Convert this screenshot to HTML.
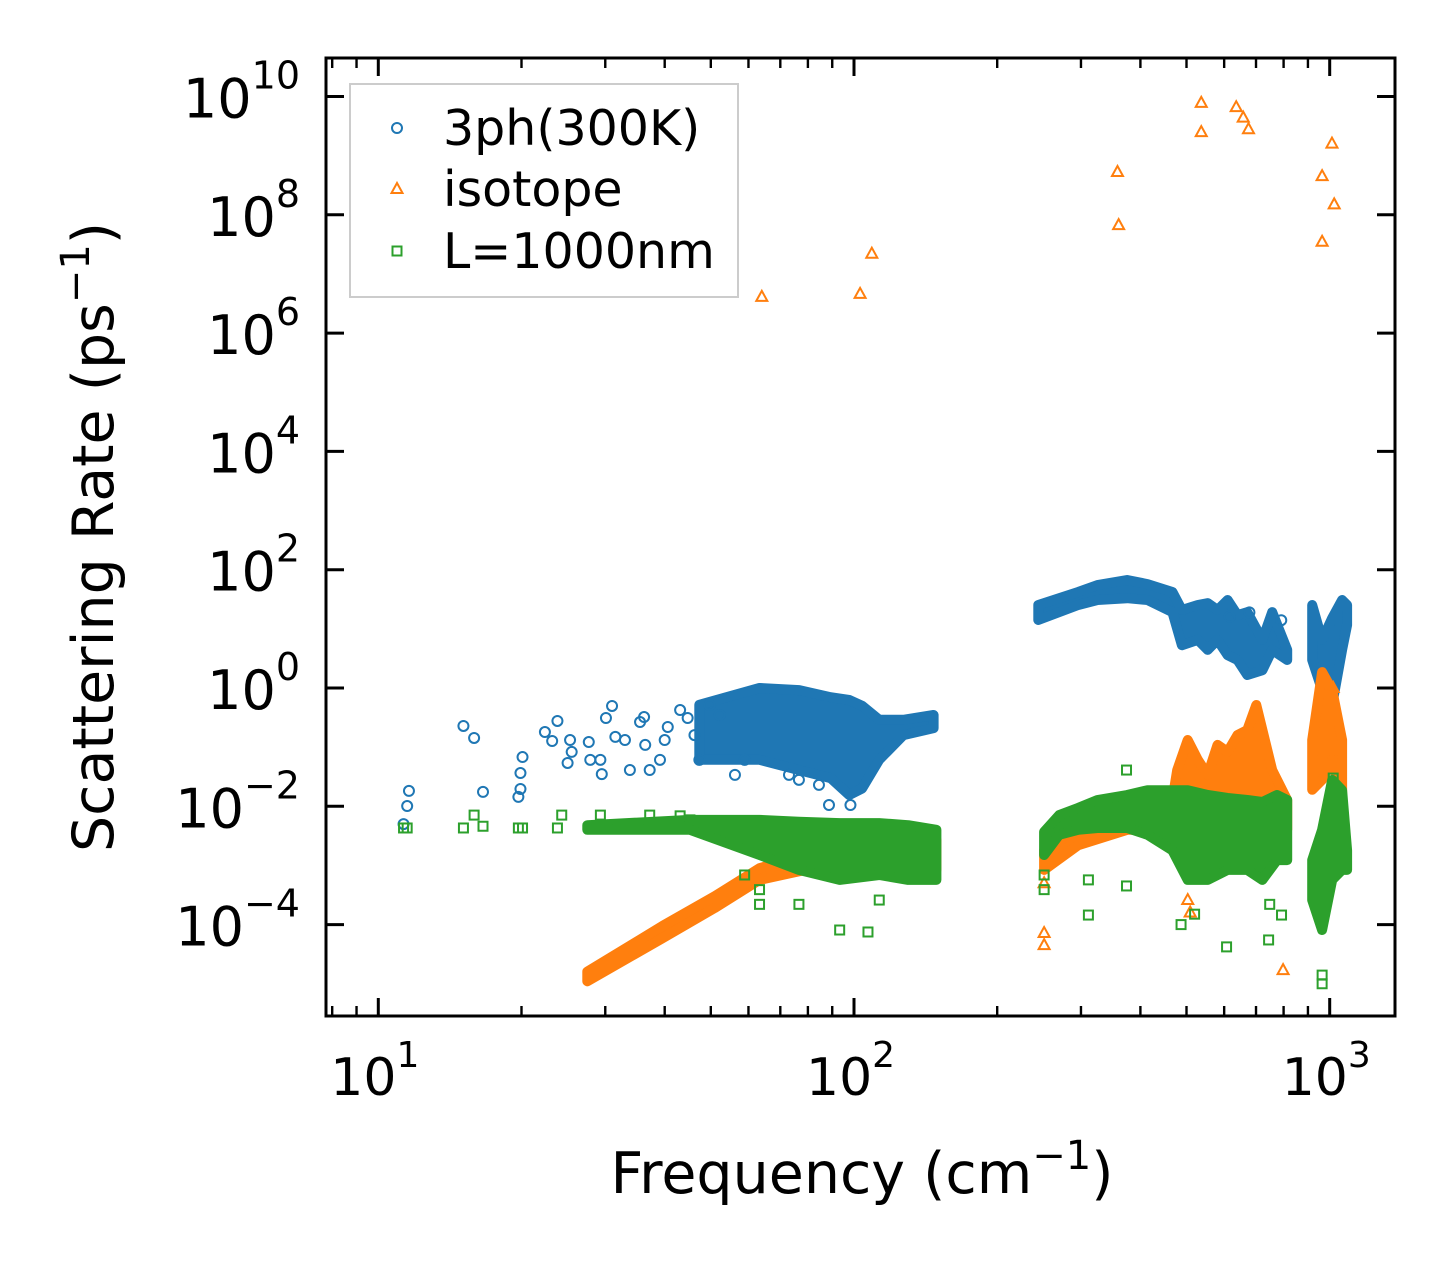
<!DOCTYPE html>
<html><head><meta charset="utf-8">
<style>
html,body{margin:0;padding:0;background:#fff;}
svg{display:block;font-family:"DejaVu Sans","Liberation Sans",sans-serif;}
</style></head>
<body>
<svg id="chart" width="1455" height="1265" viewBox="0 0 1455 1265" xmlns="http://www.w3.org/2000/svg">
<rect width="1455" height="1265" fill="#fff"/>
<g id="plot"></g>
<g id="axes"></g>
</svg>
<script>
// ---- data (frequency in cm^-1, scattering rate in ps^-1) ----
const xTickValues = [10, 100, 1000];
const xTickExps = ["1", "2", "3"];
const yTickValues = [1e10, 1e8, 1e6, 1e4, 1e2, 1, 1e-2, 1e-4];
const yTickExps = ["10", "8", "6", "4", "2", "0", "\u22122", "\u22124"];
const seriesNames = ["3ph(300K)", "isotope", "L=1000nm"];

// dense-region envelopes
const ph3Band1Freq = [47.3, 63.3, 76.7, 89.3, 97.7, 104, 113, 127, 147];
const ph3Band1Upper = [0.52, 1.0, 0.92, 0.7, 0.63, 0.5, 0.29, 0.29, 0.35];
const ph3Band1Lower = [0.061, 0.061, 0.041, 0.03, 0.0155, 0.02, 0.061, 0.16, 0.21];
const ph3Band2Freq = [244, 296, 325, 375, 414, 467, 489, 528, 554, 581, 610, 640, 671, 722, 757, 814];
const ph3Band2Upper = [25.3, 42, 55, 67, 57, 42, 20.8, 25.3, 27.3, 20.8, 30.8, 17.1, 19.2, 6.5, 19.2, 4.4];
const ph3Band2Lower = [14.1, 25.3, 30.8, 33, 30.8, 19.2, 5.3, 6.5, 4.4, 6.5, 3.6, 2.97, 1.66, 2.0, 4.4, 2.97];
const ph3Band3Freq = [919, 964, 1012, 1062, 1088];
const ph3Band3Upper = [25.3, 6.5, 15.2, 30.8, 25.3];
const ph3Band3Lower = [2.97, 0.92, 0.52, 4.4, 11.6];

const isoBand1Freq = [27.5, 39.6, 50.9, 63.3, 79.1, 102, 124, 149];
const isoBand1Upper = [1.6e-5, 9.5e-5, 3.0e-4, 9e-4, 1.5e-3, 1.8e-3, 2.2e-3, 2.7e-3];
const isoBand1Lower = [1.1e-5, 5.9e-5, 1.9e-4, 5.7e-4, 8.4e-4, 8.4e-4, 8.4e-4, 8.4e-4];
const isoBand2Freq = [251, 296, 375, 467, 478, 503, 528, 554, 581, 610, 640, 671, 701, 757, 814];
const isoBand2Upper = [0.0018, 0.004, 0.0087, 0.0128, 0.041, 0.132, 0.061, 0.034, 0.109, 0.083, 0.16, 0.195, 0.516, 0.041, 0.0128];
const isoBand2Lower = [0.00084, 0.0022, 0.004, 0.004, 0.004, 0.004, 0.0059, 0.004, 0.004, 0.004, 0.004, 0.0059, 0.0059, 0.0059, 0.004];
const isoBand3Freq = [919, 964, 1012, 1062];
const isoBand3Upper = [0.132, 1.86, 0.92, 0.132];
const isoBand3Lower = [0.019, 0.028, 0.061, 0.0128];

const bndBand1Freq = [27.5, 45.2, 63.3, 76.6, 93.3, 113, 130, 149];
const bndBand1Upper = [0.0048, 0.0059, 0.0059, 0.0055, 0.0052, 0.0052, 0.0048, 0.0040];
const bndBand1Lower = [0.0040, 0.0040, 0.0015, 0.00084, 0.00057, 0.00069, 0.00057, 0.00057];
const bndBand2Freq = [251, 270, 296, 325, 375, 414, 467, 503, 554, 610, 671, 722, 775, 814];
const bndBand2Upper = [0.0037, 0.0071, 0.0094, 0.0128, 0.0155, 0.0187, 0.0187, 0.0187, 0.0155, 0.0138, 0.0128, 0.0118, 0.0155, 0.0128];
const bndBand2Lower = [0.0015, 0.0033, 0.0040, 0.0043, 0.0043, 0.0033, 0.0018, 0.00057, 0.00057, 0.00084, 0.00084, 0.00057, 0.00123, 0.00123];
const bndBand3Freq = [919, 964, 1012, 1062, 1088];
const bndBand3Upper = [0.00123, 0.0040, 0.028, 0.0187, 0.0018];
const bndBand3Lower = [0.00026, 8.1e-5, 0.00057, 0.00084, 0.00084];

// scattered points
const ph3Freq = [11.3, 11.5, 11.6, 15.1, 15.9, 16.6, 19.7, 19.9, 19.9, 20.1, 22.4, 23.2, 23.8, 25.0, 25.3, 25.5, 27.7, 27.9, 29.3, 29.5, 30.1, 31.0, 31.5, 33.0, 33.8, 35.5, 36.2, 36.4, 37.2, 39.1, 40.0, 40.6, 43.1, 44.7, 46.2, 47.3, 49.7, 52.2, 56.2, 58.9, 73, 76.6, 84.4, 88.6, 98.3, 616, 678, 791, 1017];
const ph3Rate = [0.0050, 0.0101, 0.0182, 0.228, 0.143, 0.0175, 0.0144, 0.0196, 0.0365, 0.068, 0.180, 0.127, 0.277, 0.054, 0.132, 0.083, 0.122, 0.061, 0.061, 0.035, 0.311, 0.497, 0.149, 0.132, 0.041, 0.266, 0.323, 0.109, 0.041, 0.061, 0.132, 0.219, 0.424, 0.311, 0.160, 0.061, 0.516, 0.350, 0.034, 0.061, 0.034, 0.028, 0.023, 0.0105, 0.0105, 16, 19, 14, 1.0];
const isoFreq = [64, 103, 109, 358, 360, 537, 537, 636, 658, 675, 964, 964, 1022, 1011, 251, 251, 798, 503, 509, 251, 1017];
const isoRate = [4.1e6, 4.6e6, 2.2e7, 5.3e8, 6.7e7, 7.8e9, 2.5e9, 6.6e9, 4.4e9, 2.8e9, 4.5e8, 3.5e7, 1.5e8, 1.6e9, 7.2e-5, 4.5e-5, 1.7e-5, 2.6e-4, 1.6e-4, 0.0005, 1.0];
const bndFreq = [11.3, 11.5, 15.1, 15.9, 16.6, 19.7, 20.1, 23.8, 24.3, 27.9, 29.3, 30.6, 35.5, 37.2, 43.1, 45.2, 58.9, 63.3, 63.3, 76.6, 93.3, 107, 113, 251, 251, 311, 311, 374, 374, 487, 520, 607, 744, 748, 792, 964, 964, 1017];
const bndRate = [0.0043, 0.0043, 0.0043, 0.0071, 0.0046, 0.0043, 0.0043, 0.0043, 0.0071, 0.0043, 0.0071, 0.0043, 0.0043, 0.0071, 0.0069, 0.0059, 0.00069, 0.00039, 0.00022, 0.00022, 8.1e-5, 7.5e-5, 0.00026, 0.00069, 0.00039, 1.45e-4, 0.00057, 0.00045, 0.041, 1.0e-4, 1.5e-4, 4.2e-5, 5.5e-5, 0.00022, 1.45e-4, 1.4e-5, 1.0e-5, 0.03];

// ---- axes ----
const L = 326, R = 1395, T = 58, B = 1016;
function xPos(f){ return 378.3 + 475.7 * (Math.log10(f) - 1); }
function yPos(v){ return 688 - 59.15 * Math.log10(v); }
const NS = "http://www.w3.org/2000/svg";
const plot = document.getElementById('plot');
const axes = document.getElementById('axes');
function mk(tag, attrs, parent){ const e = document.createElementNS(NS, tag); for (const k in attrs) e.setAttribute(k, attrs[k]); parent.appendChild(e); return e; }

const colors = ["#1f77b4", "#ff7f0e", "#2ca02c"];

function band(freq, up, lo, color, name){
  let pts = [];
  for (let i = 0; i < freq.length; i++) pts.push(xPos(freq[i]).toFixed(1) + "," + yPos(up[i]).toFixed(1));
  for (let i = freq.length - 1; i >= 0; i--) pts.push(xPos(freq[i]).toFixed(1) + "," + yPos(lo[i]).toFixed(1));
  const p = mk('polygon', {points: pts.join(' '), fill: color, stroke: color, 'stroke-width': 10, 'stroke-linejoin': 'round'}, plot);
  
  
}
function marker(kind, x, y, color, parent){
  let e;
  if (kind === 0) e = mk('circle', {cx: x, cy: y, r: 5, fill: 'none', stroke: color, 'stroke-width': 2}, parent);
  else if (kind === 1) e = mk('polygon', {points: `${x},${y-6} ${x-5.5},${y+4} ${x+5.5},${y+4}`, fill: 'none', stroke: color, 'stroke-width': 2}, parent);
  else e = mk('rect', {x: x-4.5, y: y-4.5, width: 9, height: 9, fill: 'none', stroke: color, 'stroke-width': 2}, parent);
  return e;
}
function scatter(freq, rate, kind, name){
  for (let i = 0; i < freq.length; i++){
    const e = marker(kind, xPos(freq[i]), yPos(rate[i]), colors[kind], plot);
    
    
  }
}
band(ph3Band1Freq, ph3Band1Upper, ph3Band1Lower, colors[0], '3ph-cloud-low');
band(ph3Band2Freq, ph3Band2Upper, ph3Band2Lower, colors[0], '3ph-cloud-mid');
band(ph3Band3Freq, ph3Band3Upper, ph3Band3Lower, colors[0], '3ph-cloud-high');
scatter(ph3Freq, ph3Rate, 0, '3ph-point');
band(isoBand1Freq, isoBand1Upper, isoBand1Lower, colors[1], 'isotope-cloud-low');
band(isoBand2Freq, isoBand2Upper, isoBand2Lower, colors[1], 'isotope-cloud-mid');
band(isoBand3Freq, isoBand3Upper, isoBand3Lower, colors[1], 'isotope-cloud-high');
scatter(isoFreq, isoRate, 1, 'isotope-point');
band(bndBand1Freq, bndBand1Upper, bndBand1Lower, colors[2], 'boundary-cloud-low');
band(bndBand2Freq, bndBand2Upper, bndBand2Lower, colors[2], 'boundary-cloud-mid');
band(bndBand3Freq, bndBand3Upper, bndBand3Lower, colors[2], 'boundary-cloud-high');
scatter(bndFreq, bndRate, 2, 'boundary-point');

// frame
const fr = mk('rect', {x: L, y: T, width: R-L, height: B-T, fill: 'none', stroke: '#000', 'stroke-width': 3}, axes);



// x ticks
for (let d = 1; d <= 1000; d *= 10){
  for (let m = 1; m <= 9; m++){
    const f = d * m, x = xPos(f);
    if (x < L || x > R) continue;
    const len = m === 1 ? 18 : 10;
    const tk = mk('line', {x1: x, y1: B, x2: x, y2: B - len, stroke: '#000', 'stroke-width': m === 1 ? 3 : 2.4}, axes);
    
    
    const tk2 = mk('line', {x1: x, y1: T, x2: x, y2: T + len, stroke: '#000', 'stroke-width': m === 1 ? 3 : 2.4}, axes);
    
    
  }
}
xTickValues.forEach((v, i) => {
  const t = mk('text', {x: xPos(v) - 48, y: 1095, 'font-size': 52}, axes);
  
  
  t.appendChild(document.createTextNode('10'));
  const s = mk('tspan', {'font-size': 36, dy: -28}, t); s.textContent = xTickExps[i];
});
yTickValues.forEach((v, i) => {
  const y = yPos(v);
  const a = mk('line', {x1: L, y1: y, x2: L + 18, y2: y, stroke: '#000', 'stroke-width': 3}, axes);
  
  
  const b = mk('line', {x1: R, y1: y, x2: R - 18, y2: y, stroke: '#000', 'stroke-width': 3}, axes);
  
  
  const t = mk('text', {x: 300, y: y + 21, 'font-size': 54, 'text-anchor': 'end'}, axes);
  
  
  t.appendChild(document.createTextNode('10'));
  const s = mk('tspan', {'font-size': 38, dy: -29}, t); s.textContent = yTickExps[i];
});

// axis titles
const xt = mk('text', {x: 862, y: 1193, 'font-size': 57, 'text-anchor': 'middle'}, axes);


xt.appendChild(document.createTextNode('Frequency (cm'));
let s1 = mk('tspan', {'font-size': 40, dy: -24}, xt); s1.textContent = '\u22121';
let s2 = mk('tspan', {dy: 24}, xt); s2.textContent = ')';
const yt = mk('text', {x: 0, y: 0, 'font-size': 57, 'text-anchor': 'middle', transform: 'translate(113,537) rotate(-90)'}, axes);


yt.appendChild(document.createTextNode('Scattering Rate (ps'));
let s3 = mk('tspan', {'font-size': 40, dy: -24}, yt); s3.textContent = '\u22121';
let s4 = mk('tspan', {dy: 24}, yt); s4.textContent = ')';

// legend
const lg = mk('g', {}, axes);


mk('rect', {x: 350, y: 84, width: 388, height: 213, fill: '#fff', 'fill-opacity': 0.8, stroke: '#ccc', 'stroke-width': 2}, lg);
const legY = [128, 189, 251];
seriesNames.forEach((n, i) => {
  const g = mk('g', {}, lg);
  
  
  marker(i, 397, legY[i], colors[i], g);
  const t = mk('text', {x: 443, y: legY[i] + 17, 'font-size': 49}, g);
  t.textContent = n;
});
</script>
</body></html>
